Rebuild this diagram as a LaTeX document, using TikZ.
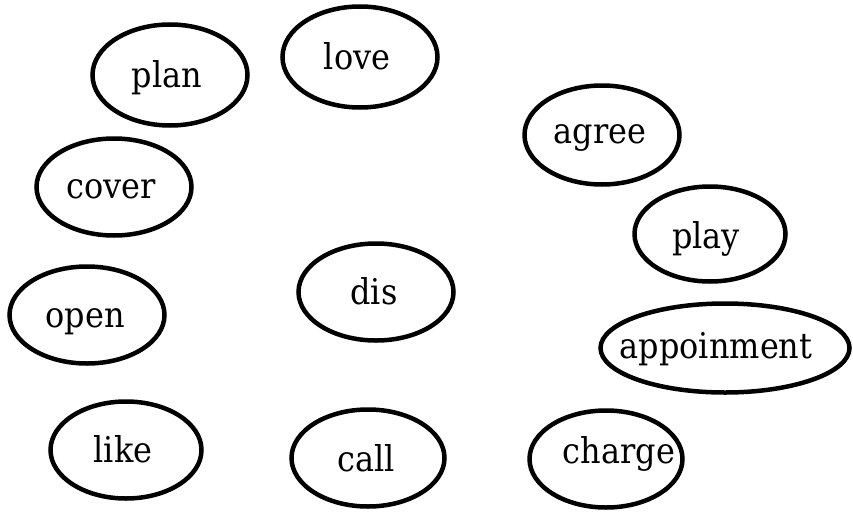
\documentclass[tikz,border=0pt]{standalone}
\usepackage{fontspec}
\setmainfont{DejaVu Serif Condensed}
\usetikzlibrary{shapes.geometric}
\begin{document}
\begin{tikzpicture}[x=1pt,y=-1pt,
  word/.style={ellipse, draw=black, line width=4.5pt, inner sep=0pt,
    font=\fontsize{35.5}{40}\selectfont, text height=24pt, text depth=0pt,
    minimum width=155pt, minimum height=97pt}]
\useasboundingbox[fill=white] (0,0) rectangle (853,511);
\node[word, minimum height=101pt] (plan) at (170,75) {\makebox[0pt]{\hspace{-6pt}plan}};
\node[word, minimum height=101pt] (love) at (360,57) {\makebox[0pt]{\hspace{-6pt}love}};
\node[word, minimum height=99pt, text height=16pt] (agree) at (602,135) {\makebox[0pt]{\hspace{-4pt}agree}};
\node[word, text height=22pt] (cover) at (114,187) {\makebox[0pt]{\hspace{-6pt}cover}};
\node[word, minimum width=151pt, minimum height=95pt, text height=28pt] (play) at (710,234) {\makebox[0pt]{\hspace{-8pt}play}};
\node[word] (dis) at (376,292) {\makebox[0pt]{\hspace{-4pt}dis}};
\node[word] (open) at (87,315) {\makebox[0pt]{\hspace{-4pt}open}};
\node[word, minimum width=249pt, minimum height=89pt, text height=20pt] (appoinment) at (725,348) {\makebox[0pt]{\hspace{-18pt}appoinment}};
\node[word, minimum width=151pt] (like) at (126,450) {\makebox[0pt]{\hspace{-6pt}like}};
\node[word, minimum width=153pt, text height=26pt] (call) at (368,458) {\makebox[0pt]{\hspace{-4pt}call}};
\node[word, minimum width=153pt, text height=8pt] (charge) at (606,459) {\makebox[0pt]{\hspace{26pt}charge}};
\end{tikzpicture}
\end{document}
